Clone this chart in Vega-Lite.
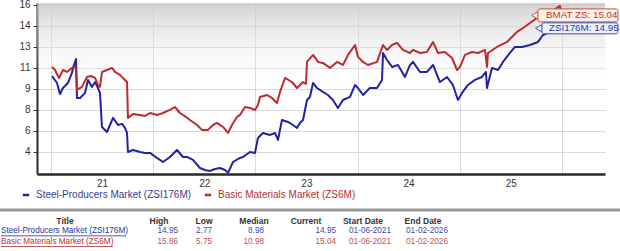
{
  "$schema": "https://vega.github.io/schema/vega-lite/v6.json",
  "width": 568,
  "height": 171,
  "autosize": {"type": "none"},
  "padding": {"left": 37, "top": 3, "right": 15, "bottom": 77},
  "background": "white",
  "config": {"view": {"stroke": null}, "font": "Liberation Sans"},
  "datasets": {
    "blue": [
      {"t":2021.010,"v":10.20},{"t":2021.059,"v":9.63},{"t":2021.088,"v":8.73},{"t":2021.117,"v":9.22},{"t":2021.166,"v":9.63},{"t":2021.205,"v":10.45},{"t":2021.215,"v":10.86},{"t":2021.245,"v":11.59},{"t":2021.254,"v":8.41},{"t":2021.284,"v":8.41},{"t":2021.333,"v":8.82},{"t":2021.362,"v":9.88},{"t":2021.401,"v":9.31},{"t":2021.431,"v":9.71},{"t":2021.460,"v":9.22},{"t":2021.479,"v":8.82},{"t":2021.499,"v":6.04},{"t":2021.548,"v":5.63},{"t":2021.577,"v":6.20},{"t":2021.607,"v":6.78},{"t":2021.656,"v":6.20},{"t":2021.695,"v":6.29},{"t":2021.724,"v":5.96},{"t":2021.744,"v":5.55},{"t":2021.753,"v":4.00},{"t":2021.802,"v":4.16},{"t":2021.871,"v":4.00},{"t":2021.920,"v":3.92},{"t":2021.969,"v":3.92},{"t":2022.037,"v":3.51},{"t":2022.096,"v":3.18},{"t":2022.164,"v":3.59},{"t":2022.233,"v":4.16},{"t":2022.292,"v":3.59},{"t":2022.331,"v":3.59},{"t":2022.389,"v":3.35},{"t":2022.458,"v":2.69},{"t":2022.507,"v":2.53},{"t":2022.556,"v":2.45},{"t":2022.605,"v":2.61},{"t":2022.654,"v":2.69},{"t":2022.703,"v":2.53},{"t":2022.732,"v":2.29},{"t":2022.781,"v":3.18},{"t":2022.849,"v":3.51},{"t":2022.879,"v":3.59},{"t":2022.947,"v":4.00},{"t":2022.996,"v":3.92},{"t":2023.025,"v":5.14},{"t":2023.074,"v":5.55},{"t":2023.143,"v":5.39},{"t":2023.192,"v":5.55},{"t":2023.221,"v":4.98},{"t":2023.260,"v":6.61},{"t":2023.319,"v":6.45},{"t":2023.368,"v":6.20},{"t":2023.407,"v":5.96},{"t":2023.436,"v":6.37},{"t":2023.466,"v":6.61},{"t":2023.505,"v":8.24},{"t":2023.534,"v":8.49},{"t":2023.564,"v":9.63},{"t":2023.603,"v":9.22},{"t":2023.661,"v":8.90},{"t":2023.710,"v":8.65},{"t":2023.759,"v":8.24},{"t":2023.808,"v":7.59},{"t":2023.857,"v":8.24},{"t":2023.926,"v":8.49},{"t":2023.975,"v":9.47},{"t":2024.004,"v":9.22},{"t":2024.053,"v":8.65},{"t":2024.121,"v":9.22},{"t":2024.190,"v":9.22},{"t":2024.239,"v":9.88},{"t":2024.249,"v":12.08},{"t":2024.288,"v":11.51},{"t":2024.337,"v":10.94},{"t":2024.395,"v":11.10},{"t":2024.464,"v":10.12},{"t":2024.513,"v":11.10},{"t":2024.542,"v":11.35},{"t":2024.611,"v":10.53},{"t":2024.679,"v":10.53},{"t":2024.738,"v":11.10},{"t":2024.806,"v":9.71},{"t":2024.875,"v":10.12},{"t":2024.933,"v":9.47},{"t":2024.982,"v":8.24},{"t":2025.022,"v":8.82},{"t":2025.080,"v":9.47},{"t":2025.149,"v":9.88},{"t":2025.217,"v":10.12},{"t":2025.256,"v":10.53},{"t":2025.266,"v":9.22},{"t":2025.315,"v":10.86},{"t":2025.374,"v":10.69},{"t":2025.423,"v":11.35},{"t":2025.491,"v":12.08},{"t":2025.540,"v":12.57},{"t":2025.609,"v":12.57},{"t":2025.687,"v":12.73},{"t":2025.765,"v":12.98},{"t":2025.814,"v":13.55},{"t":2025.883,"v":13.80},{"t":2025.941,"v":13.96},{"t":2026.000,"v":14.12}
    ],
    "red": [
      {"t":2021.010,"v":10.94},{"t":2021.039,"v":10.69},{"t":2021.078,"v":10.04},{"t":2021.117,"v":10.69},{"t":2021.157,"v":10.53},{"t":2021.205,"v":10.86},{"t":2021.235,"v":10.94},{"t":2021.245,"v":10.69},{"t":2021.254,"v":9.06},{"t":2021.303,"v":9.31},{"t":2021.352,"v":10.12},{"t":2021.391,"v":10.20},{"t":2021.431,"v":10.04},{"t":2021.460,"v":9.47},{"t":2021.479,"v":9.31},{"t":2021.499,"v":10.53},{"t":2021.548,"v":10.69},{"t":2021.597,"v":10.86},{"t":2021.626,"v":10.53},{"t":2021.675,"v":10.29},{"t":2021.724,"v":9.88},{"t":2021.744,"v":9.71},{"t":2021.753,"v":6.78},{"t":2021.802,"v":7.10},{"t":2021.871,"v":7.02},{"t":2021.920,"v":6.94},{"t":2021.969,"v":7.18},{"t":2022.037,"v":7.02},{"t":2022.096,"v":7.18},{"t":2022.164,"v":7.43},{"t":2022.213,"v":7.67},{"t":2022.262,"v":7.18},{"t":2022.321,"v":6.86},{"t":2022.360,"v":6.61},{"t":2022.429,"v":6.20},{"t":2022.477,"v":5.80},{"t":2022.536,"v":5.80},{"t":2022.585,"v":6.20},{"t":2022.624,"v":6.37},{"t":2022.683,"v":6.04},{"t":2022.732,"v":5.55},{"t":2022.771,"v":6.20},{"t":2022.820,"v":6.86},{"t":2022.849,"v":7.02},{"t":2022.898,"v":7.67},{"t":2022.947,"v":7.59},{"t":2022.996,"v":7.43},{"t":2023.025,"v":7.84},{"t":2023.045,"v":8.49},{"t":2023.114,"v":8.65},{"t":2023.162,"v":8.41},{"t":2023.211,"v":8.00},{"t":2023.241,"v":8.90},{"t":2023.290,"v":10.04},{"t":2023.358,"v":9.71},{"t":2023.407,"v":9.22},{"t":2023.466,"v":9.71},{"t":2023.495,"v":9.55},{"t":2023.505,"v":11.35},{"t":2023.564,"v":11.92},{"t":2023.613,"v":11.35},{"t":2023.661,"v":11.27},{"t":2023.730,"v":10.86},{"t":2023.798,"v":11.35},{"t":2023.857,"v":11.10},{"t":2023.906,"v":11.92},{"t":2023.975,"v":12.73},{"t":2024.004,"v":11.76},{"t":2024.053,"v":11.35},{"t":2024.102,"v":11.10},{"t":2024.190,"v":11.35},{"t":2024.249,"v":12.73},{"t":2024.288,"v":12.33},{"t":2024.337,"v":12.73},{"t":2024.386,"v":12.90},{"t":2024.444,"v":12.33},{"t":2024.513,"v":12.08},{"t":2024.542,"v":12.33},{"t":2024.611,"v":12.08},{"t":2024.679,"v":12.16},{"t":2024.738,"v":12.98},{"t":2024.787,"v":12.08},{"t":2024.855,"v":12.16},{"t":2024.924,"v":11.67},{"t":2024.973,"v":10.69},{"t":2025.002,"v":10.94},{"t":2025.051,"v":11.92},{"t":2025.119,"v":12.16},{"t":2025.178,"v":12.08},{"t":2025.247,"v":12.33},{"t":2025.266,"v":10.94},{"t":2025.276,"v":12.08},{"t":2025.364,"v":12.57},{"t":2025.462,"v":12.98},{"t":2025.511,"v":13.39},{"t":2025.560,"v":13.80},{"t":2025.619,"v":14.12},{"t":2025.687,"v":14.53},{"t":2025.755,"v":14.94},{"t":2025.804,"v":15.18},{"t":2025.883,"v":15.43},{"t":2025.932,"v":15.67},{"t":2025.980,"v":15.92},{"t":2026.000,"v":15.18}
    ],
    "tags": [
      {"lab":"BMAT ZS: 15.04","ser":"b","t":2026.0,"v":15.04},
      {"lab":"ZSI176M: 14.95","ser":"s","t":2026.0,"v":14.95}
    ],
    "table": [
      {"r":"line","c":-1,"c2":14,"k":"line"},
      {"r":"hdr","c":1,"t":"Title","k":"hdr"},
      {"r":"hdr","c":2,"t":"High","k":"hdr"},
      {"r":"hdr","c":4,"t":"Low","k":"hdr"},
      {"r":"hdr","c":6,"t":"Median","k":"hdr"},
      {"r":"hdr","c":8,"t":"Current","k":"hdr"},
      {"r":"hdr","c":10,"t":"Start Date","k":"hdr"},
      {"r":"hdr","c":12,"t":"End Date","k":"hdr"},
      {"r":"s","c":0,"t":"Steel-Producers Market (ZSI176M)","k":"title"},
      {"r":"s","c":3,"t":"14.95","k":"num"},
      {"r":"s","c":5,"t":"2.77","k":"num"},
      {"r":"s","c":7,"t":"8.98","k":"num"},
      {"r":"s","c":9,"t":"14.95","k":"num"},
      {"r":"s","c":11,"t":"01-06-2021","k":"date"},
      {"r":"s","c":13,"t":"01-02-2026","k":"date"},
      {"r":"b","c":0,"t":"Basic Materials Market (ZS6M)","k":"title"},
      {"r":"b","c":3,"t":"15.86","k":"num"},
      {"r":"b","c":5,"t":"5.75","k":"num"},
      {"r":"b","c":7,"t":"10.98","k":"num"},
      {"r":"b","c":9,"t":"15.04","k":"num"},
      {"r":"b","c":11,"t":"01-06-2021","k":"date"},
      {"r":"b","c":13,"t":"01-02-2026","k":"date"}
    ]
  },
  "layer": [
    {
      "data": {"values": [{}]},
      "mark": {"type": "rect", "fill": {"gradient": "linear", "x1": 0, "y1": 0, "x2": 0, "y2": 1, "stops": [{"offset": 0, "color": "rgba(195,195,195,0.75)"}, {"offset": 0.5, "color": "rgba(255,255,255,0)"}, {"offset": 1, "color": "rgba(255,255,255,0)"}]}},
      "encoding": {}
    },
    {
      "encoding": {
        "x": {"field": "t", "type": "quantitative",
          "scale": {"domain": [2020.863, 2026.421], "nice": false, "zero": false},
          "axis": {"title": null, "values": [2021, 2022, 2023, 2024, 2025, 2026], "labelExpr": "datum.value >= 2026 ? '' : slice(toString(datum.value), 2)", "labelOffset": 51, "labelFlush": false, "ticks": false, "tickSize": 0, "labelPadding": 4, "labelFontSize": 10, "labelColor": "#333", "labelFont": "Liberation Sans", "domainColor": "#2a2a2a", "domainWidth": 2.5, "gridColor": "#d9d9d9", "gridWidth": 1, "labelBaseline": "top"}},
        "y": {"field": "v", "type": "quantitative",
          "scale": {"domain": [2.2, 16.16], "nice": false, "zero": false},
          "axis": {"title": null, "values": [4, 5.7142857, 7.4285714, 9.1428571, 10.8571429, 12.5714286, 14.2857143, 16], "labelExpr": "['4','6','8','9','11','13','14','16'][round((datum.value-4)*7/12)]", "tickSize": 4, "tickColor": "#333", "labelPadding": 3, "labelFontSize": 10, "labelColor": "#333", "labelFont": "Liberation Sans", "domainColor": "#2a2a2a", "domainWidth": 2, "gridColor": "#d9d9d9", "gridWidth": 1}}
      },
      "layer": [
        {
          "data": {"name": "blue"},
          "transform": [{"calculate": "'Steel-Producers Market (ZSI176M)'", "as": "series"}],
          "mark": {"type": "line", "strokeWidth": 2, "strokeJoin": "round"},
          "encoding": {
            "color": {"field": "series", "type": "nominal",
              "scale": {"domain": ["Steel-Producers Market (ZSI176M)", "Basic Materials Market (ZS6M)"], "range": ["#2222a3", "#bf2a2d"]},
              "legend": {"orient": "none", "legendX": -16, "legendY": 187, "direction": "horizontal", "columns": 2, "title": null, "symbolType": "stroke", "symbolSize": 40, "symbolStrokeWidth": 2.5, "labelFont": "Liberation Sans", "labelFontSize": 10, "columnPadding": 7, "labelOffset": 5, "padding": 0, "labelLimit": 300,
                "encode": {"labels": {"update": {"fill": {"signal": "datum.label === 'Basic Materials Market (ZS6M)' ? '#b5302e' : '#39408c'"}}}}}
            }
          }
        },
        {
          "data": {"name": "red"},
          "transform": [{"calculate": "'Basic Materials Market (ZS6M)'", "as": "series"}],
          "mark": {"type": "line", "strokeWidth": 2, "strokeJoin": "round"},
          "encoding": {
            "color": {"field": "series", "type": "nominal"}
          }
        },
        {
          "data": {"name": "tags"},
          "transform": [{"filter": "datum.ser === 'b'"}],
          "layer": [
            {"mark": {"type": "point", "shape": "triangle-left", "filled": true, "size": 60, "fill": "#fdf0e6", "stroke": "#c8503c", "strokeWidth": 1, "opacity": 1, "xOffset": -27, "yOffset": -1.3}},
            {"mark": {"type": "rect", "fill": "#fdf0e6", "stroke": "#c8503c", "strokeWidth": 1, "cornerRadius": 2, "xOffset": -24, "x2Offset": 56, "yOffset": -7.8, "y2Offset": 5.2},
             "encoding": {"x2": {"field": "t"}, "y2": {"field": "v"}}},
            {"mark": {"type": "text", "align": "left", "baseline": "middle", "dx": -16, "dy": -1.3, "fontSize": 9.8, "color": "#c0392b", "font": "Liberation Sans"},
             "encoding": {"text": {"field": "lab"}}}
          ]
        },
        {
          "data": {"name": "tags"},
          "transform": [{"filter": "datum.ser === 's'"}],
          "layer": [
            {"mark": {"type": "point", "shape": "triangle-left", "filled": true, "size": 60, "fill": "#edf1fb", "stroke": "#3f4fa8", "strokeWidth": 1, "opacity": 1, "xOffset": -23, "yOffset": 10.5}},
            {"mark": {"type": "rect", "fill": "#edf1fb", "stroke": "#3f4fa8", "strokeWidth": 1, "cornerRadius": 2, "xOffset": -20, "x2Offset": 56, "yOffset": 5, "y2Offset": 16},
             "encoding": {"x2": {"field": "t"}, "y2": {"field": "v"}}},
            {"mark": {"type": "text", "align": "left", "baseline": "middle", "dx": -13, "dy": 10.4, "fontSize": 9.8, "color": "#2a3a9a", "font": "Liberation Sans"},
             "encoding": {"text": {"field": "lab"}}}
          ]
        }
      ]
    },
    {
      "data": {"name": "table"},
      "encoding": {
        "x": {"field": "c", "type": "quantitative", "axis": null,
          "scale": {"domain": [-1, 0, 1, 2, 3, 4, 5, 6, 7, 8, 9, 10, 11, 12, 13, 14], "range": [-37, -36, 28, 122, 141, 167, 175, 217, 227, 269, 299, 326, 333, 386, 390, 583], "nice": false, "zero": false}},
        "y": {"field": "r", "type": "nominal", "axis": null,
          "scale": {"type": "point", "domain": ["line", "hdr", "s", "b"], "range": [207, 239], "padding": 0}}
      },
      "layer": [
        {"transform": [{"filter": "datum.k === 'line'"}],
         "mark": {"type": "rule", "color": "#999999", "strokeWidth": 3},
         "encoding": {"x2": {"field": "c2"}}},
        {"transform": [{"filter": "datum.k === 'hdr'"}],
         "mark": {"type": "text", "align": "center", "baseline": "middle", "fontSize": 8.5, "fontWeight": "bold", "color": "#333333", "font": "Liberation Sans"},
         "encoding": {"text": {"field": "t"}}},
        {"transform": [{"filter": "datum.k === 'title'"}],
         "mark": {"type": "text", "align": "left", "baseline": "middle", "fontSize": 8.2, "font": "Liberation Sans"},
         "encoding": {"text": {"field": "t"}, "color": {"condition": {"test": "datum.r === 's'", "value": "#2233a0"}, "value": "#b8302a"}}},
        {"transform": [{"filter": "datum.k === 'num'"}],
         "mark": {"type": "text", "align": "right", "baseline": "middle", "fontSize": 8.2, "font": "Liberation Sans"},
         "encoding": {"text": {"field": "t"}, "color": {"condition": {"test": "datum.r === 's'", "value": "#3a4ab0"}, "value": "#c0504d"}}},
        {"transform": [{"filter": "datum.k === 'date'"}],
         "mark": {"type": "text", "align": "center", "baseline": "middle", "fontSize": 8.2, "font": "Liberation Sans"},
         "encoding": {"text": {"field": "t"}, "color": {"condition": {"test": "datum.r === 's'", "value": "#3a4ab0"}, "value": "#c0504d"}}},
        {"transform": [{"filter": "datum.k === 'title' && datum.r === 's'"}],
         "mark": {"type": "rule", "color": "#2233a0", "strokeWidth": 0.8, "yOffset": 4.5, "y2Offset": 4.5, "x2Offset": 125},
         "encoding": {"x2": {"field": "c"}}},
        {"transform": [{"filter": "datum.k === 'title' && datum.r === 'b'"}],
         "mark": {"type": "rule", "color": "#b8302a", "strokeWidth": 0.8, "yOffset": 4.5, "y2Offset": 4.5, "x2Offset": 112},
         "encoding": {"x2": {"field": "c"}}}
      ]
    }
  ],
  "resolve": {"scale": {"x": "independent", "y": "independent"}}
}
